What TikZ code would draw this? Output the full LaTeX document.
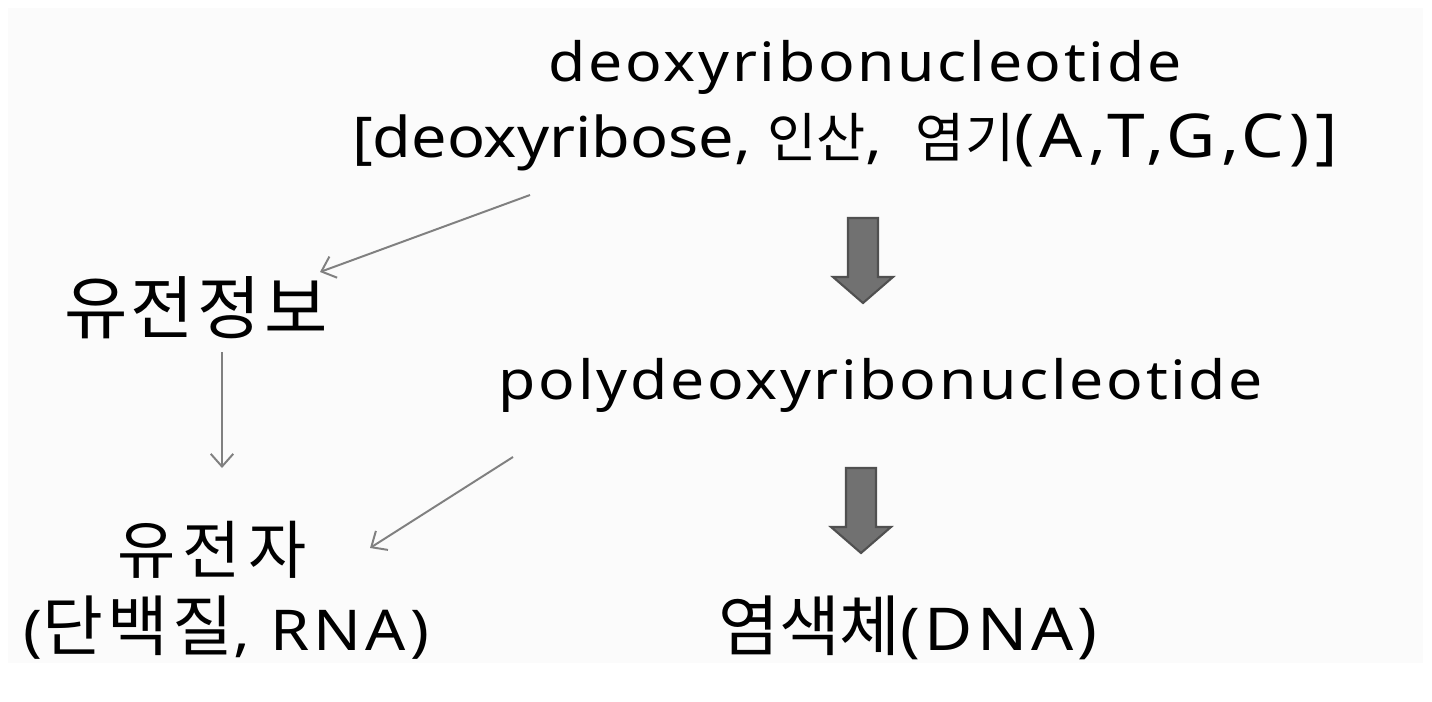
\documentclass[tikz,border=0pt]{standalone}
\usepackage{fontspec}
\setmainfont{Noto Sans}[FakeStretch=1.12]
\newfontfamily\kr{Noto Sans CJK KR}
\usetikzlibrary{arrows.meta}
\definecolor{bggray}{HTML}{FBFBFB}
\definecolor{linkgray}{HTML}{808080}
\definecolor{blockfill}{HTML}{717171}
\definecolor{blockdraw}{HTML}{505050}
% hangul at a given size and letter spacing
\newcommand{\hg}[3][0]{{\kr\fontsize{#2}{#2}\selectfont\addfontfeatures{LetterSpace=#1}#3}}
\newcommand{\wide}[1]{{\fontsize{43}{43}\selectfont\addfontfeatures{LetterSpace=9}#1}}
\tikzset{
  txt/.style={inner sep=0pt, font=\fontsize{38.5}{40}\selectfont\addfontfeatures{LetterSpace=5}},
  bigtxt/.style={inner sep=0pt, font=\fontsize{#1}{#1}\selectfont\addfontfeatures{LetterSpace=7}},
  plaintxt/.style={inner sep=0pt, font=\fontsize{#1}{#1}\selectfont},
  link/.style={draw=linkgray, line width=1.4pt, -{Straight Barb[length=9pt, width=16pt, line width=1.4pt]}},
  bigarrow/.pic={
    \draw[fill=blockfill, draw=blockdraw, line width=1.5pt, line join=miter]
      (-15,0) -- (15,0) -- (15,59) -- (30,59) -- (0,85) -- (-30,59) -- (-15,59) -- cycle;
  }
}
\begin{document}
\begin{tikzpicture}[x=0.025cm, y=-0.025cm]
  \useasboundingbox (0,0) rectangle (1432,702);
  \fill[bggray] (8,8) rectangle (1423,663);

  % upper chain
  \node[txt] (nuc) at (865,67) {deoxyribonucleotide};
  \node[plaintxt=40] (bases) at (845,142)
    {[deoxyribose, \hg{38}{인산},\hspace{0.3em} \hg{38}{염기}\wide{(A,T,G,C)]}};
  \node[txt] (poly) at (881,385) {polydeoxyribonucleotide};
  \node[bigtxt=42] (chrom) at (908,628) {\hg{47}{염색체}(DNA)};

  % left side
  \node[bigtxt=49] (info) at (196,308) {\hg[5]{49}{유전정보}};
  \node[bigtxt=44] (gene) at (212,550) {\hg[12]{45}{유전자}};
  \node[bigtxt=40] (prod) at (226,628) {(\hg[7]{47}{단백질}, RNA)};

  % block arrows
  \pic at (863,218) {bigarrow};
  \pic at (861,468) {bigarrow};

  % thin arrows
  \draw[link] ([shift={(-315,53)}]bases.center) -- ([shift={(124,-36)}]info.center);
  \draw[link] ([shift={(26,44)}]info.center) -- ([shift={(10,-82)}]gene.center);
  \draw[link] ([shift={(-368,72)}]poly.center) -- ([shift={(158,-2)}]gene.center);
\end{tikzpicture}
\end{document}
